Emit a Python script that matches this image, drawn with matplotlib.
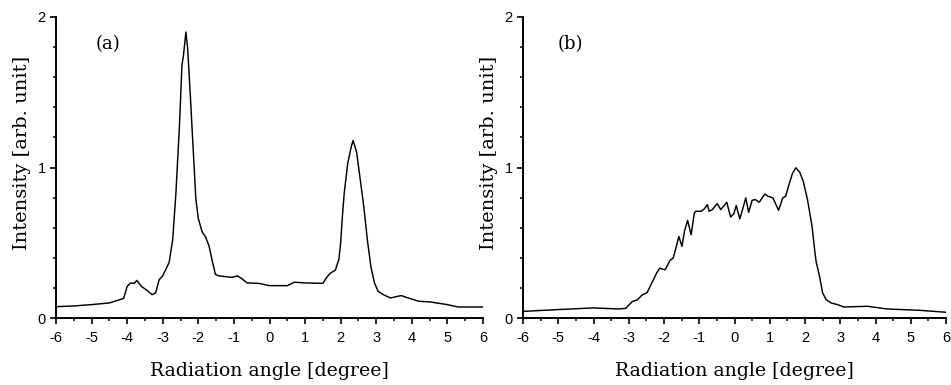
import numpy as np
import matplotlib
matplotlib.use("Agg")
import matplotlib.pyplot as plt
from matplotlib.ticker import MultipleLocator

# Angular distribution (a): angle [deg] and intensity [arb. unit]
angle_a = [-6.0, -5.5, -5.0, -4.5, -4.3, -4.1, -4.0, -3.9, -3.8, -3.73, -3.6, -3.45,
           -3.3, -3.2, -3.1, -3.0, -2.82, -2.72, -2.63, -2.53, -2.46, -2.42, -2.35,
           -2.3, -2.23, -2.14, -2.07, -2.0, -1.89, -1.8, -1.7, -1.6, -1.52, -1.43,
           -1.05, -0.9, -0.77, -0.63, -0.3, 0.0, 0.5, 0.7, 1.0, 1.5, 1.6, 1.7, 1.85,
           1.95, 2.0, 2.05, 2.1, 2.2, 2.3, 2.35, 2.45, 2.55, 2.65, 2.75, 2.85, 2.95,
           3.05, 3.2, 3.4, 3.7, 3.9, 4.2, 4.5, 5.0, 5.3, 6.0]
intensity_a = [0.075, 0.08, 0.089, 0.10, 0.115, 0.13, 0.21, 0.233, 0.23, 0.25, 0.21,
               0.185, 0.155, 0.167, 0.255, 0.28, 0.37, 0.52, 0.83, 1.28, 1.68, 1.74,
               1.90, 1.79, 1.50, 1.10, 0.79, 0.66, 0.57, 0.54, 0.48, 0.37, 0.29, 0.28,
               0.27, 0.28, 0.26, 0.233, 0.23, 0.215, 0.215, 0.238, 0.233, 0.23, 0.267,
               0.296, 0.318, 0.39, 0.50, 0.68, 0.83, 1.03, 1.14, 1.18, 1.10, 0.92,
               0.74, 0.52, 0.34, 0.233, 0.178, 0.155, 0.133, 0.149, 0.133, 0.111,
               0.107, 0.089, 0.073, 0.073]

# Angular distribution (b)
angle_b = [-6.0, -5.0, -4.0, -3.3, -3.09, -2.9, -2.76, -2.62, -2.48, -2.35, -2.21,
           -2.12, -1.97, -1.83, -1.74, -1.65, -1.58, -1.49, -1.42, -1.33, -1.23,
           -1.14, -1.1, -0.95, -0.86, -0.77, -0.72, -0.63, -0.49, -0.39, -0.22,
           -0.11, -0.02, 0.05, 0.15, 0.24, 0.32, 0.4, 0.5, 0.59, 0.7, 0.86, 0.95,
           1.09, 1.25, 1.37, 1.45, 1.56, 1.65, 1.74, 1.85, 1.95, 2.07, 2.2, 2.29,
           2.32, 2.41, 2.5, 2.6, 2.74, 2.92, 3.11, 3.77, 4.33, 5.26, 6.0]
intensity_b = [0.044, 0.056, 0.067, 0.06, 0.064, 0.109, 0.12, 0.153, 0.169, 0.231,
               0.298, 0.331, 0.32, 0.382, 0.398, 0.476, 0.542, 0.476, 0.576, 0.649,
               0.553, 0.698, 0.709, 0.709, 0.724, 0.753, 0.709, 0.72, 0.76, 0.72,
               0.769, 0.671, 0.693, 0.747, 0.658, 0.731, 0.798, 0.702, 0.782, 0.787,
               0.769, 0.824, 0.809, 0.798, 0.716, 0.798, 0.809, 0.898, 0.964, 0.998,
               0.969, 0.909, 0.787, 0.609, 0.42, 0.37, 0.28, 0.167, 0.122, 0.10,
               0.089, 0.073, 0.078, 0.06, 0.051, 0.038]

x_ticks = [-6, -5, -4, -3, -2, -1, 0, 1, 2, 3, 4, 5, 6]
y_ticks = [0, 1, 2]
panel_tags = ["(a)", "(b)"]
x_label = "Radiation angle [degree]"
y_label = "Intensity [arb. unit]"

W, H = 951, 385
fig = plt.figure(figsize=(W / 100, H / 100), dpi=100)

serif = "DejaVu Serif"
sans = "Liberation Sans"


def px_axes(left, right, top, bottom):
    return fig.add_axes([left / W, 1 - bottom / H, (right - left) / W, (bottom - top) / H])


ax_a = px_axes(56, 483, 17, 318)
ax_b = px_axes(523, 946, 17, 318)

for ax, xs, ys, tag in [(ax_a, angle_a, intensity_a, panel_tags[0]),
                        (ax_b, angle_b, intensity_b, panel_tags[1])]:
    ax.plot(xs, ys, color="black", lw=1.05)
    ax.set_xlim(-6, 6)
    ax.set_ylim(0, 2)
    ax.set_xticks(x_ticks)
    ax.set_xticklabels([str(t) for t in x_ticks], fontfamily=sans, fontsize=10.5)
    ax.set_yticks(y_ticks)
    ax.set_yticklabels([str(t) for t in y_ticks], fontfamily=sans, fontsize=10.5)
    ax.xaxis.set_minor_locator(MultipleLocator(0.5))
    ax.yaxis.set_minor_locator(MultipleLocator(0.2))
    ax.tick_params(which="major", direction="out", length=4.5, width=1.2)
    ax.tick_params(axis="x", which="major", pad=5)
    ax.tick_params(axis="y", which="major", pad=3)
    ax.tick_params(which="minor", direction="out", length=2.5, width=1.1)
    for side in ("top", "right"):
        ax.spines[side].set_visible(False)
    for side in ("left", "bottom"):
        ax.spines[side].set_linewidth(1.4)
    ax.set_xlabel(x_label, fontfamily=serif, fontsize=13.6, va="center")
    ax.xaxis.set_label_coords(0.5, -0.175)
    ax.set_ylabel(y_label, fontfamily=serif, fontsize=14, va="center")
    ax.yaxis.set_label_coords(-0.08, 0.55)
    ax.text(-4.55 if tag == "(a)" else -4.65, 1.82, tag, fontfamily=serif,
            fontsize=13, ha="center", va="center")
    ax.patch.set_alpha(0)

fig.savefig("out.png", dpi=100)
